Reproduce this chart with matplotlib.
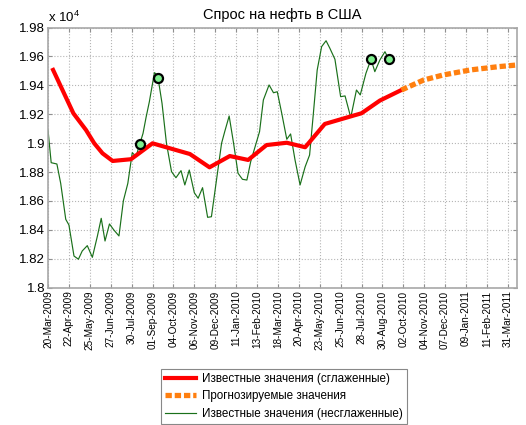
import matplotlib
matplotlib.use('Agg')
import matplotlib.pyplot as plt
from matplotlib.ticker import FuncFormatter

plt.rcParams['font.family'] = ['Liberation Sans', 'DejaVu Sans']
plt.rcParams['mathtext.default'] = 'regular'

# days counted from 20-Mar-2009
raw_days = [0, 2, 5, 14, 20, 28, 33, 41, 48, 54, 62, 70, 78, 84, 90, 97, 104, 112,
            119, 126, 133, 139, 150, 155, 160, 168, 173, 180, 187, 195, 202, 210,
            216, 223, 231, 237, 244, 252, 258, 266, 274, 279, 286, 293, 300, 307,
            314, 320, 327, 334, 340, 349, 356, 362, 369, 377, 383, 390, 398, 406,
            413, 419, 425, 432, 439, 445, 453, 462, 469, 478, 487, 493, 502, 510,
            516, 524, 532, 538]
raw_vals = [19091, 18999, 18865, 18856, 18722, 18473, 18434, 18219, 18197, 18254,
            18291, 18210, 18358, 18480, 18323, 18441, 18399, 18358, 18602, 18722,
            18934, 18909, 19068, 19183, 19287, 19488, 19472, 19276, 18999, 18803,
            18761, 18810, 18711, 18814, 18657, 18619, 18692, 18487, 18491, 18745,
            18999, 19080, 19188, 18999, 18792, 18750, 18745, 18872, 18976, 19080,
            19299, 19403, 19349, 19356, 19207, 19027, 19064, 18884, 18711, 18837,
            18918, 19207, 19506, 19668, 19709, 19657, 19581, 19322, 19327, 19178,
            19368, 19334, 19484, 19581, 19495, 19576, 19633, 19581]

smooth_days = [8, 40, 60, 73, 86, 102, 131, 165, 224, 255, 287, 316, 345, 377,
               406, 437, 480, 495, 524, 558]
smooth_vals = [19507, 19207, 19091, 18999, 18930, 18877, 18889, 18999, 18925, 18833,
               18911, 18884, 18987, 19003, 18972, 19133, 19188, 19207, 19295, 19368]

forecast_days = [558, 593, 624, 667, 710, 740]
forecast_vals = [19368, 19437, 19472, 19507, 19529, 19541]

mark_days = [146, 174, 510, 538]
mark_vals = [18994, 19453, 19581, 19581]

tick_labels = ['20-Mar-2009', '22-Apr-2009', '25-May-2009', '27-Jun-2009', '30-Jul-2009',
               '01-Sep-2009', '04-Oct-2009', '06-Nov-2009', '09-Dec-2009', '11-Jan-2010',
               '13-Feb-2010', '18-Mar-2010', '20-Apr-2010', '23-May-2010', '25-Jun-2010',
               '28-Jul-2010', '30-Aug-2010', '02-Oct-2010', '04-Nov-2010', '07-Dec-2010',
               '09-Jan-2011', '11-Feb-2011', '31-Mar-2011']
tick_step = 33

fig = plt.figure(figsize=(5.26, 4.25), dpi=100)
ax = fig.add_axes([0.0913, 0.3231, 0.8916, 0.6120])

l1, = ax.plot(smooth_days, smooth_vals, color='#ff0000', lw=3, solid_joinstyle='round',
              label='Известные значения (сглаженные)', zorder=3)
l2, = ax.plot(forecast_days, forecast_vals, color='#ff7f0f', lw=3.8, dashes=(1.2, 0.55),
              dash_capstyle='butt', label='Прогнозируемые значения', zorder=3)
l3, = ax.plot(raw_days, raw_vals, color='#1a701a', lw=0.85,
              label='Известные значения (несглаженные)', zorder=2)
ax.plot(mark_days, mark_vals, 'o', ms=6.5, mfc='#7ef08e', mec='black', mew=1.6, zorder=4)

ax.set_xlim(0, 740.5)
ax.set_ylim(18000, 19800)
ax.set_xticks([tick_step * i for i in range(len(tick_labels))])
ax.set_xticklabels(tick_labels, rotation=90, fontsize=7.2)
ax.set_yticks(range(18000, 19801, 200))
ax.yaxis.set_major_formatter(FuncFormatter(lambda v, p: '%g' % (v / 1e4)))
ax.tick_params(axis='y', labelsize=9.5)
ax.tick_params(direction='in', length=3, color='#909090', top=True, right=True, pad=2)
ax.grid(True, linestyle=':', color='#b5b5b5', lw=0.8)
for s in ax.spines.values():
    s.set_color('#a8a8a8')
    s.set_linewidth(1.2)

ax.set_title('Спрос на нефть в США', fontsize=10.5, pad=6)
fig.text(0.091, 0.942, 'x 10$^{4}$', fontsize=9.5, ha='left', va='bottom')

leg = fig.legend(handles=[l1, l2, l3], loc='lower center', bbox_to_anchor=(0.54, 0.0),
                 fontsize=8.4, handlelength=2.7, handletextpad=0.5, labelspacing=0.45,
                 borderpad=0.35, borderaxespad=0.1, fancybox=False, framealpha=1)
leg.get_frame().set_edgecolor('#888888')
leg.get_frame().set_linewidth(0.8)

fig.savefig('out.png', dpi=100)
